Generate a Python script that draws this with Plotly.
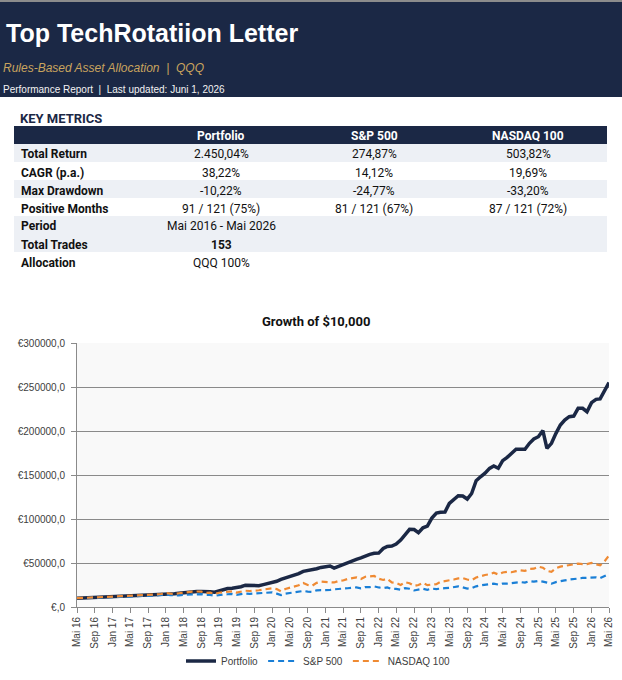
import pandas as pd
import plotly.graph_objects as go

# ---- data ----
months_de = ["Jan", "Feb", "Mär", "Apr", "Mai", "Jun", "Jul", "Aug", "Sep", "Okt", "Nov", "Dez"]
dates = pd.date_range("2016-05-01", periods=121, freq="MS")

portfolio = [
    10000, 10200, 10500, 10700, 11000, 10900, 11200, 11400, 11500, 11700, 12000, 12200,
    12500, 12600, 12700, 12800, 13000, 13300, 13700, 14100, 14500, 14600, 15100, 15600,
    16300, 16700, 17100, 17500, 17600, 17800, 17300, 16700, 18500, 20300, 21000, 21400,
    22000, 23000, 24800, 24600, 23600, 24200, 25400, 26500, 27600, 29200, 31400, 33000,
    34300, 36400, 38000, 40500, 41300, 42800, 43500, 45000, 45800, 46600, 44200, 46400,
    48200, 50000, 52000, 54200, 55800, 58000, 59800, 61000, 61200, 66500, 68800, 69300,
    71500, 76100, 82000, 88300, 88000, 84400, 90000, 92000, 101000, 106800, 107600, 108000,
    117800, 122000, 126500, 126200, 122700, 129000, 143500, 148000, 152000, 157500, 160200, 157600,
    166300, 170100, 174500, 179200, 179400, 179200, 186000, 190900, 193500, 200400, 180300, 186000,
    197000, 206800, 212500, 216300, 217000, 225800, 225800, 221900, 232200, 236000, 236500, 246000,
    255004,
]
sp500 = [
    10000, 10100, 10300, 10400, 10500, 10400, 10800, 11100, 11300, 11500, 11600, 11800,
    11900, 12100, 12200, 12400, 12600, 12900, 13200, 13700, 14200, 13400, 13200, 13300,
    13700, 14000, 14400, 14600, 14700, 13700, 13800, 12700, 13700, 14200, 14500, 14800,
    13900, 14800, 15300, 15000, 15300, 15600, 16100, 16500, 16600, 15200, 13500, 15100,
    15800, 16200, 17100, 18200, 17500, 17200, 18900, 19000, 18700, 19400, 20100, 20800,
    20900, 21300, 21800, 22300, 21300, 22700, 22500, 23400, 22200, 21500, 22300, 20500,
    20600, 19700, 21400, 20700, 18800, 19600, 20700, 19600, 20900, 20400, 21100, 21400,
    21700, 22800, 23500, 22300, 21000, 21300, 23500, 24600, 25000, 25800, 26600, 25500,
    26700, 26600, 27200, 27700, 28300, 27700, 29400, 28800, 29600, 28800, 27300, 26500,
    28300, 29600, 30300, 31100, 32000, 32600, 33000, 33200, 33700, 33700, 32800, 35500,
    37487,
]
nasdaq100 = [
    10000, 10200, 10500, 10700, 10700, 10500, 11000, 11200, 11600, 12000, 12300, 12600,
    12800, 12700, 13000, 13000, 13600, 13900, 14400, 14800, 15900, 15100, 14900, 15600,
    16400, 16600, 17400, 17600, 17400, 16100, 16300, 14800, 16200, 16700, 17300, 17800,
    16400, 17600, 18500, 18200, 18300, 19000, 19800, 20600, 21300, 20400, 17800, 20500,
    21700, 23300, 24700, 27400, 25000, 24200, 27400, 28800, 28600, 28500, 27900, 29600,
    30100, 31800, 32600, 33600, 31800, 34400, 34800, 35300, 32100, 30700, 32100, 27900,
    27300, 25000, 28200, 27000, 24000, 25000, 27500, 24800, 25500, 26000, 28600, 29400,
    29700, 31200, 32500, 32800, 31200, 30500, 33500, 35100, 36400, 37300, 38900, 37000,
    39200, 40000, 39500, 40700, 41700, 41100, 43300, 43500, 45800, 44600, 41000, 40000,
    44000, 45900, 46800, 47400, 48300, 49300, 48800, 48700, 50000, 49000, 47300, 52000,
    58500,
]

y_tickvals = [0, 50000, 100000, 150000, 200000, 250000, 300000]
y_ticktext = ["€,0", "€50000,0", "€100000,0", "€150000,0", "€200000,0", "€250000,0", "€300000,0"]

metric_labels = ["Total Return", "CAGR (p.a.)", "Max Drawdown", "Positive Months",
                 "Period", "Total Trades", "Allocation"]
portfolio_col = ["2.450,04%", "38,22%", "-10,22%", "91 / 121 (75%)",
                 "Mai 2016 - Mai 2026", "<b>153</b>", "QQQ 100%"]
sp500_col = ["274,87%", "14,12%", "-24,77%", "81 / 121 (67%)", "", "", ""]
nasdaq_col = ["503,82%", "19,69%", "-33,20%", "87 / 121 (72%)", "", "", ""]
table_header = ["Portfolio", "S&P 500", "NASDAQ 100"]
shaded_rows = [True, False, True, False, True, True, False]

# ---- styling ----
W, H = 622, 680
NAVY = "#1b2845"
LIGHT = "#edf0f5"
GRID = "#8a8a8a"
TABLE_FONT = "Roboto"


def py(px):
    # pixel row from top -> paper y
    return 1 - px / H


def px_(x):
    return x / W


tick_vals = dates[::4]
tick_text = [f"{months_de[d.month - 1]} {d:%y}" for d in tick_vals]

fig = go.Figure()

fig.add_trace(go.Scatter(
    x=dates, y=portfolio, name="Portfolio", mode="lines",
    line=dict(color=NAVY, width=3.5),
))
fig.add_trace(go.Scatter(
    x=dates, y=sp500, name="S&P 500", mode="lines",
    line=dict(color="#1a7fd6", width=2.2, dash="6px,4px"),
))
fig.add_trace(go.Scatter(
    x=dates, y=nasdaq100, name="NASDAQ 100", mode="lines",
    line=dict(color="#ef8a33", width=2.2, dash="6px,4px"),
))

shapes = [
    # header band
    dict(type="rect", x0=0, x1=1, y0=py(97), y1=1, fillcolor=NAVY),
    dict(type="rect", x0=0, x1=1, y0=py(2), y1=1, fillcolor="#8c8c8c"),
]

annotations = [
    dict(text="<b>Top TechRotatiion Letter</b>", x=px_(4), y=py(33),
         font=dict(family="Liberation Sans", size=25, color="white")),
    dict(text="<i>Rules-Based Asset Allocation  |  QQQ</i>", x=px_(1), y=py(68),
         font=dict(family="Liberation Sans", size=12, color="#c9a45e")),
    dict(text="Performance Report  |  Last updated: Juni 1, 2026", x=px_(1), y=py(90),
         font=dict(family="Liberation Sans", size=10, color="#f2f2f2")),
    dict(text="<b>KEY METRICS</b>", x=px_(18), y=py(118),
         font=dict(family=TABLE_FONT, size=13, color=NAVY)),
    dict(text="<b>Growth of $10,000</b>", x=px_(316), y=py(321), xanchor="center",
         font=dict(family=TABLE_FONT, size=13, color="#111111")),
]

# key metrics table (header band + rows)
TBL_X0, TBL_X1, TBL_TOP, ROW_H = 14, 607, 126, 18
TXT_DY = 1.5  # text sits slightly below the geometric middle of each row
col_centers = [221, 374, 528]
shapes.append(dict(type="rect", x0=px_(TBL_X0), x1=px_(TBL_X1),
                   y0=py(TBL_TOP + ROW_H), y1=py(TBL_TOP), fillcolor=NAVY))
for c, h in zip(col_centers, table_header):
    annotations.append(dict(text=f"<b>{h}</b>", x=px_(c),
                            y=py(TBL_TOP + ROW_H / 2 + TXT_DY), xanchor="center",
                            font=dict(family=TABLE_FONT, size=12, color="white")))
for r, label in enumerate(metric_labels):
    top = TBL_TOP + ROW_H * (r + 1)
    mid = py(top + ROW_H / 2 + TXT_DY)
    if shaded_rows[r]:
        shapes.append(dict(type="rect", x0=px_(TBL_X0), x1=px_(TBL_X1),
                           y0=py(top + ROW_H), y1=py(top), fillcolor=LIGHT))
    annotations.append(dict(text=f"<b>{label}</b>", x=px_(19), y=mid,
                            font=dict(family=TABLE_FONT, size=12, color="#111111")))
    for c, col in zip(col_centers, [portfolio_col, sp500_col, nasdaq_col]):
        if col[r]:
            annotations.append(dict(text=col[r], x=px_(c), y=mid, xanchor="center",
                                    font=dict(family=TABLE_FONT, size=12, color="#111111")))

for s in shapes:
    s.update(xref="paper", yref="paper", line=dict(width=0), layer="below")
for a in annotations:
    a.update(xref="paper", yref="paper", showarrow=False, yanchor="middle")
    a.setdefault("xanchor", "left")

fig.update_layout(
    width=W, height=H,
    template="none",
    margin=dict(l=0, r=0, t=0, b=0),
    paper_bgcolor="white",
    plot_bgcolor="#f9f9f9",
    shapes=shapes,
    annotations=annotations,
    showlegend=True,
    legend=dict(
        orientation="h", x=px_(318), xanchor="center", y=py(661), yanchor="middle",
        font=dict(family="Liberation Sans", size=10, color="#404040"),
        itemwidth=30, bgcolor="rgba(0,0,0,0)",
    ),
    xaxis=dict(
        domain=[px_(77), px_(609)],
        range=[dates[0], dates[-1]],
        tickvals=tick_vals, ticktext=tick_text, tickangle=-90,
        ticks="outside", ticklen=5, tickcolor=GRID,
        showline=True, linecolor=GRID, linewidth=1,
        showgrid=False, zeroline=False, automargin=False,
        tickfont=dict(family="Liberation Sans", size=10, color="#404040"),
    ),
    yaxis=dict(
        domain=[py(607), py(343)],
        range=[0, 300000],
        tickvals=y_tickvals, ticktext=y_ticktext,
        ticks="outside", ticklen=5, tickcolor=GRID, ticklabelstandoff=4,
        showline=True, linecolor=GRID, linewidth=1,
        showgrid=True, gridcolor=GRID, gridwidth=1,
        zeroline=False, automargin=False,
        tickfont=dict(family="Liberation Sans", size=10, color="#404040"),
    ),
)

# the page body has a default 8px margin; drop it so the figure sits at the top-left corner
fig.write_html("out.html", config={"displayModeBar": False},
               post_script="document.body.style.margin='0px';")
